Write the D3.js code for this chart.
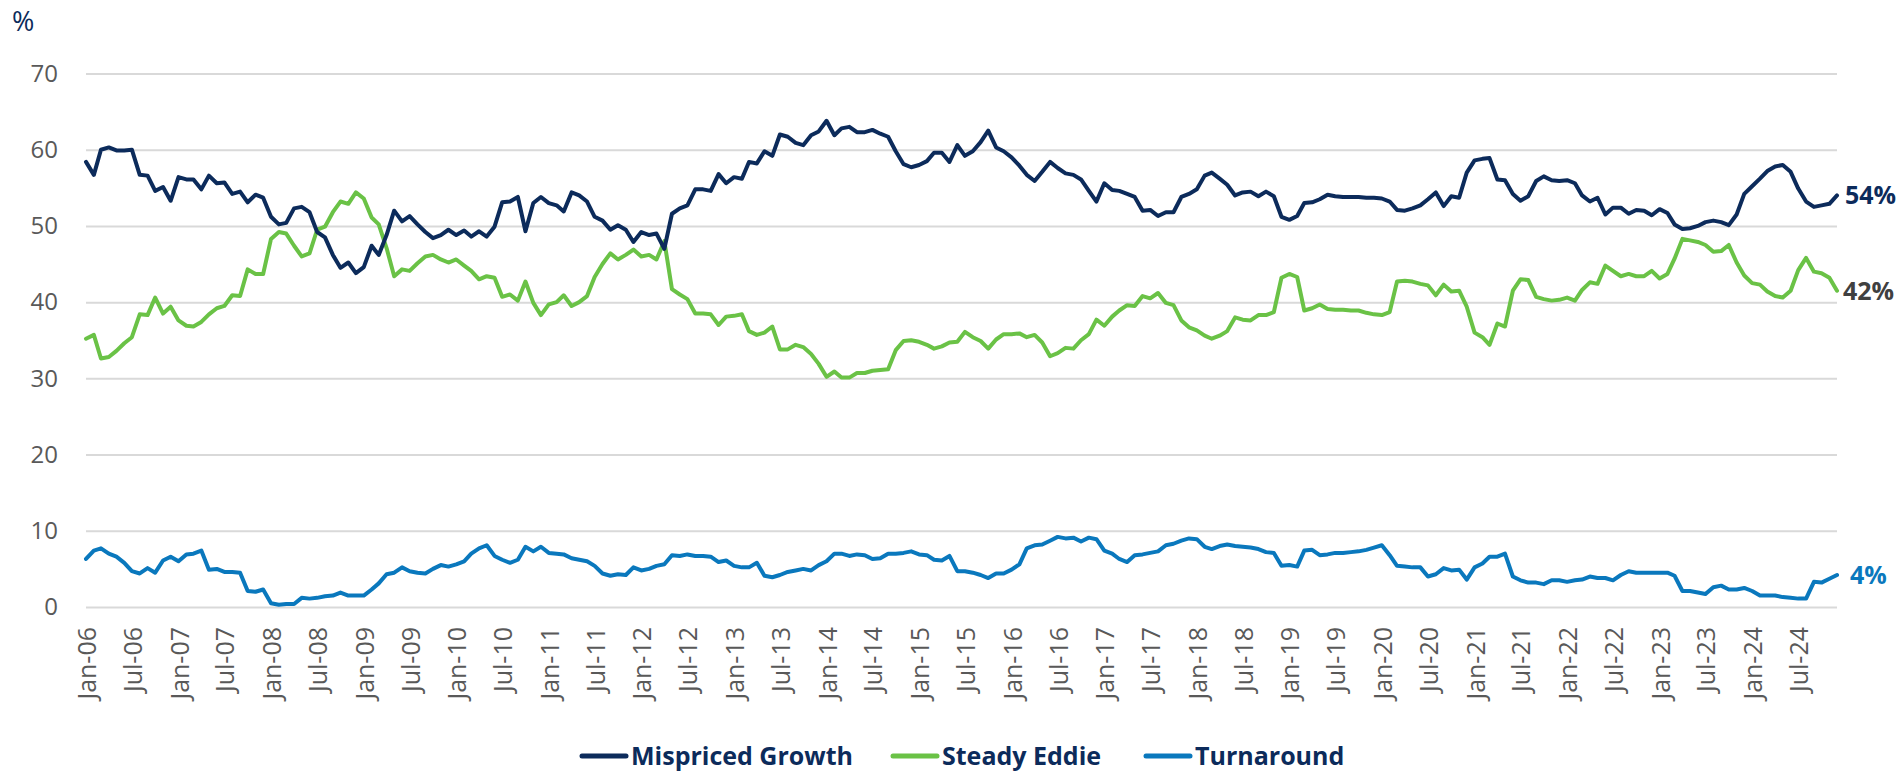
<!DOCTYPE html>
<html>
<head>
<meta charset="utf-8">
<script src="https://cdn.jsdelivr.net/npm/d3@7"></script>
<style>
  body { margin: 0; background: #fff; }
  text { font-family: "Open Sans", sans-serif; }
</style>
</head>
<body>
<script>
var width = 1900,
    height = 774;

// monthly, Jan-06 .. Dec-24
var startMonth = new Date(2006, 0, 1);

var seriesNames = ['Mispriced Growth', 'Steady Eddie', 'Turnaround'];
var seriesColors = ['#0c2b5b', '#6ac246', '#0a78bd'];
var endLabels = ['54%', '42%', '4%'];
var endLabelColors = ['#0c2b5b', '#404040', '#0a78bd'];
var yTicks = [0, 10, 20, 30, 40, 50, 60, 70];

var mispriced = [
  58.4, 56.7, 60.0, 60.3, 59.9, 59.9, 60.0, 56.7, 56.6, 54.6, 55.1, 53.3,
  56.4, 56.1, 56.1, 54.8, 56.6, 55.6, 55.7, 54.2, 54.5, 53.1, 54.1, 53.7,
  51.2, 50.2, 50.4, 52.3, 52.5, 51.8, 49.2, 48.5, 46.2, 44.5, 45.2, 43.8,
  44.6, 47.4, 46.2, 48.8, 52.0, 50.6, 51.3, 50.2, 49.2, 48.4, 48.8, 49.5,
  48.8, 49.4, 48.6, 49.3, 48.6, 49.9, 53.1, 53.2, 53.8, 49.3, 53.0, 53.8,
  53.0, 52.7, 51.9, 54.4, 54.0, 53.2, 51.2, 50.7, 49.5, 50.1, 49.5, 47.9,
  49.2, 48.8, 49.0, 47.0, 51.6, 52.3, 52.7, 54.8, 54.8, 54.6, 56.8, 55.6,
  56.4, 56.2, 58.4, 58.2, 59.8, 59.2, 62.0, 61.7, 60.9, 60.6, 61.9, 62.4,
  63.8, 61.9, 62.8, 63.0, 62.3, 62.3, 62.6, 62.1, 61.7, 59.8, 58.1, 57.7,
  58.0, 58.5, 59.6, 59.6, 58.4, 60.6, 59.2, 59.8, 61.0, 62.5, 60.3, 59.8,
  59.0, 57.9, 56.7, 55.9, 57.1, 58.4, 57.6, 56.9, 56.7, 56.1, 54.6, 53.2,
  55.6, 54.7, 54.6, 54.2, 53.8, 52.0, 52.1, 51.3, 51.8, 51.8, 53.8, 54.2,
  54.8, 56.6, 57.0, 56.2, 55.4, 54.0, 54.4, 54.5, 53.9, 54.5, 53.9, 51.2,
  50.8, 51.3, 53.0, 53.1, 53.5, 54.1, 53.9, 53.8, 53.8, 53.8, 53.7, 53.7,
  53.6, 53.2, 52.1, 52.0, 52.3, 52.7, 53.5, 54.4, 52.6, 53.9, 53.7, 57.0,
  58.6, 58.8, 58.9, 56.1, 56.0, 54.2, 53.3, 53.9, 55.9, 56.5, 56.0, 55.9,
  56.0, 55.6, 54.0, 53.2, 53.7, 51.5, 52.4, 52.4, 51.6, 52.1, 52.0, 51.4,
  52.2, 51.7, 50.2, 49.6, 49.7, 50.0, 50.5, 50.7, 50.5, 50.1, 51.5, 54.2,
  55.2, 56.2, 57.2, 57.8, 58.0, 57.1, 54.9, 53.2, 52.5, 52.7, 52.9, 54.0
];

var steady = [
  35.2, 35.7, 32.6, 32.8, 33.6, 34.6, 35.4, 38.4, 38.3, 40.6, 38.5, 39.4,
  37.6, 36.9, 36.8, 37.4, 38.4, 39.2, 39.5, 40.9, 40.8, 44.3, 43.7, 43.7,
  48.3, 49.2, 49.0, 47.4, 46.0, 46.4, 49.5, 49.9, 51.8, 53.2, 52.9, 54.4,
  53.6, 51.1, 50.2, 47.1, 43.4, 44.3, 44.1, 45.1, 46.0, 46.2, 45.6, 45.2,
  45.6, 44.8, 44.1, 43.0, 43.4, 43.2, 40.7, 41.0, 40.2, 42.7, 39.9, 38.3,
  39.7, 40.0, 40.9, 39.5, 40.0, 40.8, 43.3, 45.0, 46.4, 45.6, 46.2, 46.9,
  46.0, 46.2, 45.6, 48.0, 41.7, 41.0, 40.4, 38.5, 38.5, 38.4, 37.0, 38.1,
  38.2, 38.4, 36.2, 35.7, 36.0, 36.8, 33.8, 33.8, 34.4, 34.1, 33.2, 31.9,
  30.2, 30.9, 30.1, 30.1, 30.7, 30.7, 31.0, 31.1, 31.2, 33.7, 34.9, 35.0,
  34.8, 34.4, 33.9, 34.2, 34.7, 34.8, 36.1, 35.4, 34.9, 33.9, 35.1, 35.8,
  35.8, 35.9, 35.4, 35.7, 34.7, 32.9, 33.3, 34.0, 33.9, 35.0, 35.8, 37.7,
  36.9, 38.1, 38.9, 39.6, 39.5, 40.8, 40.5, 41.2, 39.9, 39.6, 37.6, 36.7,
  36.3, 35.6, 35.2, 35.6, 36.2, 38.0, 37.7, 37.6, 38.3, 38.3, 38.7, 43.2,
  43.7, 43.3, 38.9, 39.2, 39.7, 39.1, 39.0, 39.0, 38.9, 38.9, 38.6, 38.4,
  38.3, 38.7, 42.7, 42.8, 42.7, 42.4, 42.2, 40.9, 42.3, 41.4, 41.5, 39.4,
  36.0, 35.4, 34.4, 37.2, 36.8, 41.5, 43.0, 42.9, 40.7, 40.4, 40.2, 40.3,
  40.6, 40.2, 41.6, 42.6, 42.4, 44.8, 44.1, 43.4, 43.7, 43.4, 43.4, 44.1,
  43.1, 43.7, 45.7, 48.3, 48.1, 47.9, 47.5, 46.6, 46.7, 47.5, 45.2, 43.5,
  42.5, 42.3, 41.4, 40.8, 40.6, 41.5, 44.2, 45.8, 44.0, 43.8, 43.2, 41.5
];

var turnaround = [
  6.3, 7.4, 7.7, 7.0, 6.6, 5.8, 4.7, 4.4, 5.1, 4.5, 6.1, 6.6,
  6.0, 6.9, 7.0, 7.4, 4.9, 5.0, 4.6, 4.6, 4.5, 2.1, 2.0, 2.3,
  0.5, 0.3, 0.4, 0.4, 1.2, 1.1, 1.2, 1.4, 1.5, 1.9, 1.5, 1.5,
  1.5, 2.3, 3.1, 4.3, 4.5, 5.2, 4.7, 4.5, 4.4, 5.0, 5.5, 5.3,
  5.6, 6.0, 7.0, 7.7, 8.1, 6.7, 6.2, 5.8, 6.2, 7.9, 7.3, 7.9,
  7.1, 7.0, 6.9, 6.4, 6.2, 6.0, 5.4, 4.4, 4.1, 4.3, 4.2, 5.2,
  4.8, 5.0, 5.4, 5.6, 6.8, 6.7, 6.9, 6.7, 6.7, 6.6, 5.9, 6.1,
  5.4, 5.2, 5.2, 5.8, 4.1, 3.9, 4.2, 4.6, 4.8, 5.0, 4.8, 5.5,
  6.0, 7.0, 7.0, 6.7, 6.9, 6.8, 6.3, 6.4, 7.0, 7.0, 7.1, 7.3,
  6.9, 6.8, 6.2, 6.1, 6.7, 4.7, 4.7, 4.5, 4.2, 3.8, 4.4, 4.4,
  4.9, 5.6, 7.7, 8.1, 8.2, 8.7, 9.2, 9.0, 9.1, 8.6, 9.1, 8.9,
  7.4, 7.0, 6.3, 5.9, 6.8, 6.9, 7.1, 7.3, 8.1, 8.3, 8.7, 9.0,
  8.9, 7.9, 7.6, 8.0, 8.2, 8.0, 7.9, 7.8, 7.6, 7.2, 7.1, 5.4,
  5.5, 5.3, 7.4, 7.5, 6.8, 6.9, 7.1, 7.1, 7.2, 7.3, 7.5, 7.8,
  8.1, 6.8, 5.4, 5.3, 5.2, 5.2, 4.0, 4.3, 5.1, 4.8, 4.9, 3.6,
  5.2, 5.7, 6.6, 6.6, 7.0, 4.0, 3.5, 3.2, 3.2, 3.0, 3.5, 3.5,
  3.3, 3.5, 3.6, 4.0, 3.8, 3.8, 3.5, 4.2, 4.7, 4.5, 4.5, 4.5,
  4.5, 4.5, 4.1, 2.1, 2.1, 1.9, 1.7, 2.6, 2.8, 2.3, 2.3, 2.5,
  2.1, 1.5, 1.5, 1.5, 1.3, 1.2, 1.1, 1.1, 3.3, 3.2, 3.7, 4.2
];

var allSeries = [mispriced, steady, turnaround];

var months = mispriced.map(function(d, i) {
  return d3.timeMonth.offset(startMonth, i);
});

var tickDates = months.filter(function(d) {
  return d.getMonth() === 0 || d.getMonth() === 6;
});

var svg = d3.select('body')
  .append('svg')
  .attr('width', width)
  .attr('height', height);

var x = d3.scaleTime()
  .domain([months[0], months[months.length - 1]])
  .range([86, 1837]);

var y = d3.scaleLinear()
  .domain([0, 70])
  .range([607, 73.5]);

// gridlines + y labels
var yAxis = svg.append('g')
  .attr('transform', 'translate(86,0)')
  .call(d3.axisLeft(y)
    .tickValues(yTicks)
    .tickSize(-(1837 - 86))
    .tickPadding(28));

yAxis.select('.domain').remove();
yAxis.selectAll('.tick line')
  .attr('stroke', '#d9d9d9')
  .attr('stroke-width', 2);
yAxis.selectAll('.tick text')
  .attr('fill', '#595959')
  .style('font-size', '24px')
  .style('font-family', 'Open Sans');

// x labels, rotated
var xAxis = svg.append('g')
  .attr('transform', 'translate(0,607)')
  .call(d3.axisBottom(x)
    .tickValues(tickDates)
    .tickSize(0)
    .tickFormat(d3.timeFormat('%b-%y')));

xAxis.select('.domain').remove();
xAxis.selectAll('.tick text')
  .attr('transform', 'rotate(-90)')
  .attr('text-anchor', 'end')
  .attr('x', -20)
  .attr('y', 0)
  .attr('dy', '0.38em')
  .attr('fill', '#595959')
  .style('font-size', '25px')
  .style('font-family', 'Open Sans');

// lines
var line = d3.line()
  .x(function(d, i) { return x(months[i]); })
  .y(function(d) { return y(d); });

var drawOrder = [2, 1, 0];
drawOrder.forEach(function(k) {
  svg.append('path')
    .datum(allSeries[k])
    .attr('fill', 'none')
    .attr('stroke', seriesColors[k])
    .attr('stroke-width', 4)
    .attr('stroke-linejoin', 'round')
    .attr('stroke-linecap', 'round')
    .attr('d', line);
});

// end labels
var endX = [1845, 1843, 1850];
allSeries.forEach(function(s, k) {
  svg.append('text')
    .attr('x', endX[k])
    .attr('y', y(s[s.length - 1]))
    .attr('dy', '0.36em')
    .attr('fill', endLabelColors[k])
    .style('font-size', '25px')
    .style('font-weight', 700)
    .text(endLabels[k]);
});

// unit label
svg.append('text')
  .attr('x', 12)
  .attr('y', 31)
  .attr('fill', '#0c2b5b')
  .style('font-size', '27px')
  .text('%');

// legend
var legendX = [582, 893, 1146];
var legend = svg.append('g')
  .attr('transform', 'translate(0,756)');

seriesNames.forEach(function(name, k) {
  legend.append('line')
    .attr('x1', legendX[k])
    .attr('x2', legendX[k] + 44)
    .attr('y1', 0)
    .attr('y2', 0)
    .attr('stroke', seriesColors[k])
    .attr('stroke-width', 5)
    .attr('stroke-linecap', 'round');
  legend.append('text')
    .attr('x', legendX[k] + 49)
    .attr('y', 0)
    .attr('dy', '0.34em')
    .attr('fill', '#0c2b5b')
    .style('font-size', '25px')
    .style('font-weight', 700)
    .text(name);
});
</script>
</body>
</html>
